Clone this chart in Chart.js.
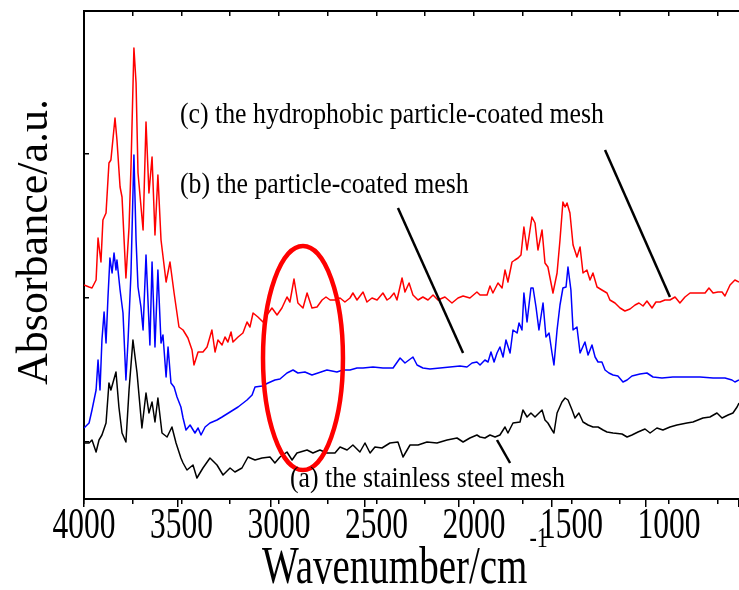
<!DOCTYPE html>
<html><head><meta charset="utf-8">
<script src="https://cdn.jsdelivr.net/npm/chart.js@4.4.1/dist/chart.umd.min.js"></script>
<style>html,body{margin:0;padding:0;background:#fff}#wrap{width:739px;height:590px}</style>
</head><body><div id="wrap"><canvas id="c" width="739" height="590"></canvas></div>
<script>
// ---- data (wavenumber cm-1, absorbance a.u.) ----
const redWave = [4000,3974,3959,3938,3928,3913,3903,3887,3872,3862,3841,3831,3815,3805,3785,3769,3759,3744,3733,3723,3697,3682,3667,3651,3636,3621,3605,3579,3559,3538,3513,3492,3467,3446,3436,3415,3390,3369,3344,3328,3313,3292,3277,3262,3246,3236,3210,3185,3164,3149,3133,3108,3082,3062,3036,3010,2985,2959,2944,2923,2903,2877,2856,2831,2805,2779,2759,2738,2713,2687,2662,2636,2621,2600,2569,2549,2523,2497,2467,2446,2431,2410,2395,2369,2354,2333,2313,2287,2262,2236,2210,2185,2149,2113,2082,2056,2021,1985,1969,1933,1918,1903,1877,1856,1841,1826,1805,1790,1774,1759,1744,1728,1703,1687,1672,1651,1636,1621,1595,1574,1559,1544,1533,1523,1508,1492,1472,1456,1441,1421,1405,1390,1369,1344,1318,1303,1277,1251,1226,1200,1174,1154,1133,1113,1087,1067,1046,1021,995,969,944,918,892,856,815,795,774,749,728,713,687,662,641];
const redAbs = [2.14,2.12,2.11,2.19,2.61,2.37,2.79,2.86,3.36,3.39,3.81,3.59,3.12,3.02,2.21,2.72,3.32,4.51,4.16,3.26,2.69,3.77,3.06,3.42,2.64,3.24,2.59,2.17,2.37,2.06,1.72,1.69,1.61,1.49,1.34,1.47,1.47,1.52,1.69,1.47,1.59,1.54,1.62,1.57,1.67,1.57,1.62,1.66,1.77,1.72,1.86,1.82,1.77,1.84,1.91,1.84,1.91,2.02,1.97,2.20,1.96,1.91,2.06,1.91,1.92,1.99,2.02,1.99,1.99,2.01,1.97,2.01,2.06,1.99,2.07,1.97,2.01,1.99,2.06,1.99,2.01,2.06,1.99,2.21,2.07,2.16,2.04,1.99,2.02,1.99,2.04,1.99,2.02,1.96,2.01,2.03,2.01,2.07,2.04,2.04,2.13,2.06,2.16,2.11,2.29,2.17,2.37,2.39,2.41,2.44,2.72,2.49,2.82,2.76,2.49,2.69,2.36,2.32,2.06,2.26,2.59,2.97,2.92,2.96,2.86,2.54,2.42,2.52,2.26,2.29,2.19,2.26,2.12,2.09,2.06,1.99,1.96,1.91,1.88,1.90,1.94,1.96,1.93,1.98,1.91,1.97,1.97,1.99,1.99,2.02,1.96,2.02,2.06,2.06,2.06,2.11,2.06,2.07,2.07,2.03,2.14,2.19,2.17];

const blueWave = [4000,3974,3959,3938,3928,3918,3908,3897,3887,3877,3867,3856,3846,3836,3831,3815,3800,3785,3774,3759,3744,3733,3723,3708,3697,3682,3662,3651,3636,3621,3605,3595,3579,3569,3554,3538,3523,3503,3492,3477,3456,3431,3415,3400,3379,3354,3318,3292,3251,3210,3164,3138,3123,3087,3056,3021,2995,2959,2928,2903,2867,2831,2800,2754,2703,2672,2636,2600,2569,2518,2467,2415,2379,2354,2313,2292,2262,2226,2174,2123,2072,2036,2010,1985,1969,1944,1928,1913,1897,1882,1867,1851,1836,1815,1800,1779,1769,1754,1744,1728,1708,1697,1682,1667,1646,1631,1615,1600,1590,1574,1559,1544,1528,1518,1503,1492,1472,1456,1431,1415,1395,1379,1364,1344,1328,1308,1287,1262,1236,1215,1190,1149,1113,1082,1036,980,908,841,774,713,677,662,641];
const blueAbs = [0.71,0.76,0.89,1.09,1.39,1.09,1.59,1.87,1.56,2.02,2.41,2.26,2.46,2.29,2.39,2.09,1.86,1.19,1.59,2.26,3.44,2.59,2.12,1.92,1.69,2.44,1.54,2.37,1.52,2.29,1.56,1.64,1.22,1.52,1.16,1.12,1.02,0.92,0.81,0.69,0.74,0.66,0.71,0.64,0.72,0.76,0.79,0.82,0.87,0.92,0.99,1.04,1.12,1.13,1.16,1.19,1.20,1.26,1.29,1.26,1.27,1.24,1.26,1.29,1.27,1.29,1.29,1.31,1.31,1.32,1.31,1.31,1.41,1.36,1.42,1.34,1.31,1.30,1.31,1.32,1.33,1.32,1.36,1.37,1.34,1.39,1.37,1.47,1.37,1.46,1.52,1.42,1.59,1.46,1.69,1.66,1.76,1.69,2.06,1.77,2.11,2.11,1.92,1.69,1.96,1.62,1.66,1.46,1.34,1.69,1.94,2.11,2.12,2.32,2.09,1.69,1.72,1.46,1.57,1.44,1.54,1.42,1.37,1.37,1.29,1.26,1.24,1.23,1.17,1.19,1.23,1.25,1.26,1.22,1.21,1.22,1.22,1.22,1.21,1.21,1.19,1.17,1.19];

const blackWave = [4000,3974,3959,3938,3923,3908,3887,3872,3862,3836,3821,3805,3785,3769,3749,3728,3703,3682,3667,3651,3636,3621,3600,3574,3549,3528,3503,3492,3472,3441,3421,3390,3354,3318,3287,3251,3226,3190,3159,3123,3087,3046,3021,2995,2959,2933,2908,2856,2826,2790,2754,2713,2687,2651,2621,2585,2559,2533,2508,2472,2431,2390,2364,2328,2287,2241,2190,2138,2087,2056,2021,1985,1969,1944,1918,1892,1867,1841,1826,1800,1764,1749,1728,1708,1687,1651,1636,1621,1600,1590,1574,1549,1533,1518,1497,1482,1462,1441,1415,1390,1364,1338,1318,1287,1241,1215,1190,1159,1123,1097,1062,1031,995,959,908,877,826,790,754,728,697,672,651,641];
const blackAbs = [0.56,0.56,0.59,0.47,0.59,0.64,0.76,1.16,1.09,1.27,0.92,0.66,0.57,1.09,1.59,1.26,0.71,1.06,0.86,0.97,0.77,1.01,0.66,0.62,0.72,0.56,0.41,0.36,0.29,0.34,0.21,0.31,0.41,0.34,0.24,0.31,0.27,0.31,0.42,0.39,0.41,0.42,0.36,0.42,0.47,0.39,0.46,0.49,0.46,0.49,0.46,0.46,0.52,0.49,0.54,0.47,0.56,0.46,0.52,0.51,0.56,0.57,0.42,0.54,0.54,0.57,0.56,0.59,0.61,0.57,0.61,0.64,0.62,0.61,0.64,0.62,0.64,0.72,0.66,0.76,0.77,0.89,0.82,0.86,0.82,0.89,0.79,0.76,0.69,0.66,0.86,0.97,1.01,0.99,0.89,0.81,0.86,0.77,0.74,0.72,0.72,0.69,0.67,0.66,0.65,0.62,0.64,0.67,0.70,0.66,0.71,0.69,0.72,0.74,0.76,0.77,0.81,0.82,0.86,0.81,0.84,0.86,0.92,0.96];

const xTickValues = [4000,3500,3000,2500,2000,1500,1000];
const xTickLabels = ['4000','3500','3000','2500','2000','1500','1000'];
const yTickValues = [0.57,2.01,3.45];
const xTitle = 'Wavenumber/cm';
const xTitleSup = '-1';
const yTitle = 'Absorbance/a.u.';
const labelA = '(a) the stainless steel mesh';
const labelB = '(b) the particle-coated mesh';
const labelC = '(c) the hydrophobic particle-coated mesh';

// ---- build ----
const toXY = (xs, ys) => xs.map((x, i) => ({x: x, y: ys[i]}));
const FONT = '"Liberation Serif", "Times New Roman", serif';

function stretchedText(ctx, text, x, y, size, stretch, align) {
  ctx.save();
  ctx.translate(x, y);
  ctx.scale(1, stretch);
  ctx.font = size + 'px ' + FONT;
  ctx.textAlign = align;
  ctx.textBaseline = 'alphabetic';
  ctx.fillText(text, 0, 0);
  ctx.restore();
}

const decor = {
  id: 'decor',
  afterDraw(chart) {
    const ctx = chart.ctx, xs = chart.scales.x, ys = chart.scales.y, ca = chart.chartArea;
    const X = v => xs.getPixelForValue(v), Y = v => ys.getPixelForValue(v);
    ctx.save();
    // red ellipse around C-H region
    const cx = X(2877), cy = Y(1.41);
    const rx = Math.abs(X(2877 - 205) - cx), ry = Math.abs(Y(1.41 + 1.12) - cy);
    ctx.strokeStyle = '#ff0000'; ctx.lineWidth = 4.5;
    ctx.beginPath(); ctx.ellipse(cx, cy, rx, ry, 0, 0, Math.PI * 2); ctx.stroke();
    // pointer lines
    ctx.strokeStyle = '#000'; ctx.lineWidth = 2.5; ctx.lineCap = 'butt';
    [[1328, 3.49, 995, 2.02], [2390, 2.91, 2056, 1.46], [1882, 0.59, 1815, 0.36]].forEach(p => {
      ctx.beginPath(); ctx.moveTo(X(p[0]), Y(p[1])); ctx.lineTo(X(p[2]), Y(p[3])); ctx.stroke();
    });
    ctx.fillStyle = '#000';
    // series labels
    stretchedText(ctx, labelC, X(3508), Y(3.76), 25.8, 1.15, 'left');
    stretchedText(ctx, labelB, X(3508), Y(3.06), 25.8, 1.15, 'left');
    stretchedText(ctx, labelA, X(2944), Y(0.12), 25.8, 1.15, 'left');
    // x tick labels
    xTickValues.forEach((v, i) => stretchedText(ctx, xTickLabels[i], X(v), ca.bottom + 39, 31.5, 1.41, 'center'));
    // x title
    ctx.font = '39px ' + FONT;
    const tw = ctx.measureText(xTitle).width;
    const tx = 262;
    stretchedText(ctx, xTitle, tx, ca.bottom + 84, 39, 1.36, 'left');
    stretchedText(ctx, xTitleSup, tx + tw + 2, ca.bottom + 48, 22, 1.36, 'left');
    // y title
    ctx.save();
    ctx.translate(47, (ca.top + ca.bottom) / 2 - 13);
    ctx.rotate(-Math.PI / 2);
    ctx.font = '44px ' + FONT;
    ctx.textAlign = 'center'; ctx.textBaseline = 'alphabetic';
    ctx.fillText(yTitle, 0, 0);
    ctx.restore();
    ctx.restore();
  }
};

const baseX = {type: 'linear', reverse: true, min: 641, max: 4000};
new Chart(document.getElementById('c'), {
  type: 'line',
  data: {
    datasets: [
      {label: 'a', data: toXY(blackWave, blackAbs), borderColor: '#000000', borderWidth: 1.5},
      {label: 'b', data: toXY(blueWave, blueAbs), borderColor: '#0000ff', borderWidth: 1.5},
      {label: 'c', data: toXY(redWave, redAbs), borderColor: '#ff0000', borderWidth: 1.5}
    ]
  },
  options: {
    responsive: false, animation: false, devicePixelRatio: 1,
    layout: {padding: {left: 84, right: 0, top: 11, bottom: 91}},
    elements: {point: {radius: 0}, line: {tension: 0, fill: false, borderJoinStyle: 'round'}},
    plugins: {legend: {display: false}, tooltip: {enabled: false}},
    scales: {
      x: Object.assign({}, baseX, {
        position: 'bottom', afterFit(s) { s.height = 0; },
        ticks: {display: false, stepSize: 500, includeBounds: false},
        grid: {display: true, drawOnChartArea: false, drawTicks: true, tickLength: 8, color: '#000', lineWidth: 1.5},
        border: {display: true, color: '#000', width: 2}
      }),
      xMinor: Object.assign({}, baseX, {
        axis: 'x', position: 'bottom', afterFit(s) { s.height = 0; },
        ticks: {display: false, stepSize: 250, includeBounds: false},
        grid: {display: true, drawOnChartArea: false, drawTicks: true, tickLength: 5, color: '#000', lineWidth: 1.5},
        border: {display: false}
      }),
      xTop: Object.assign({}, baseX, {
        axis: 'x', position: 'top', afterFit(s) { s.height = 0; },
        ticks: {display: false, stepSize: 250, includeBounds: false},
        grid: {display: true, drawOnChartArea: false, drawTicks: true, tickLength: -5, color: '#000', lineWidth: 1.5},
        border: {display: true, color: '#000', width: 2}
      }),
      y: {
        type: 'linear', position: 'left', min: 0, max: 4.88,
        afterFit(s) { s.width = 0; },
        afterBuildTicks(s) { s.ticks = yTickValues.map(v => ({value: v})); },
        ticks: {display: false},
        grid: {display: true, drawOnChartArea: false, drawTicks: true, tickLength: -5, color: '#000', lineWidth: 1.5},
        border: {display: true, color: '#000', width: 2}
      }
    }
  },
  plugins: [decor]
});
</script></body></html>
